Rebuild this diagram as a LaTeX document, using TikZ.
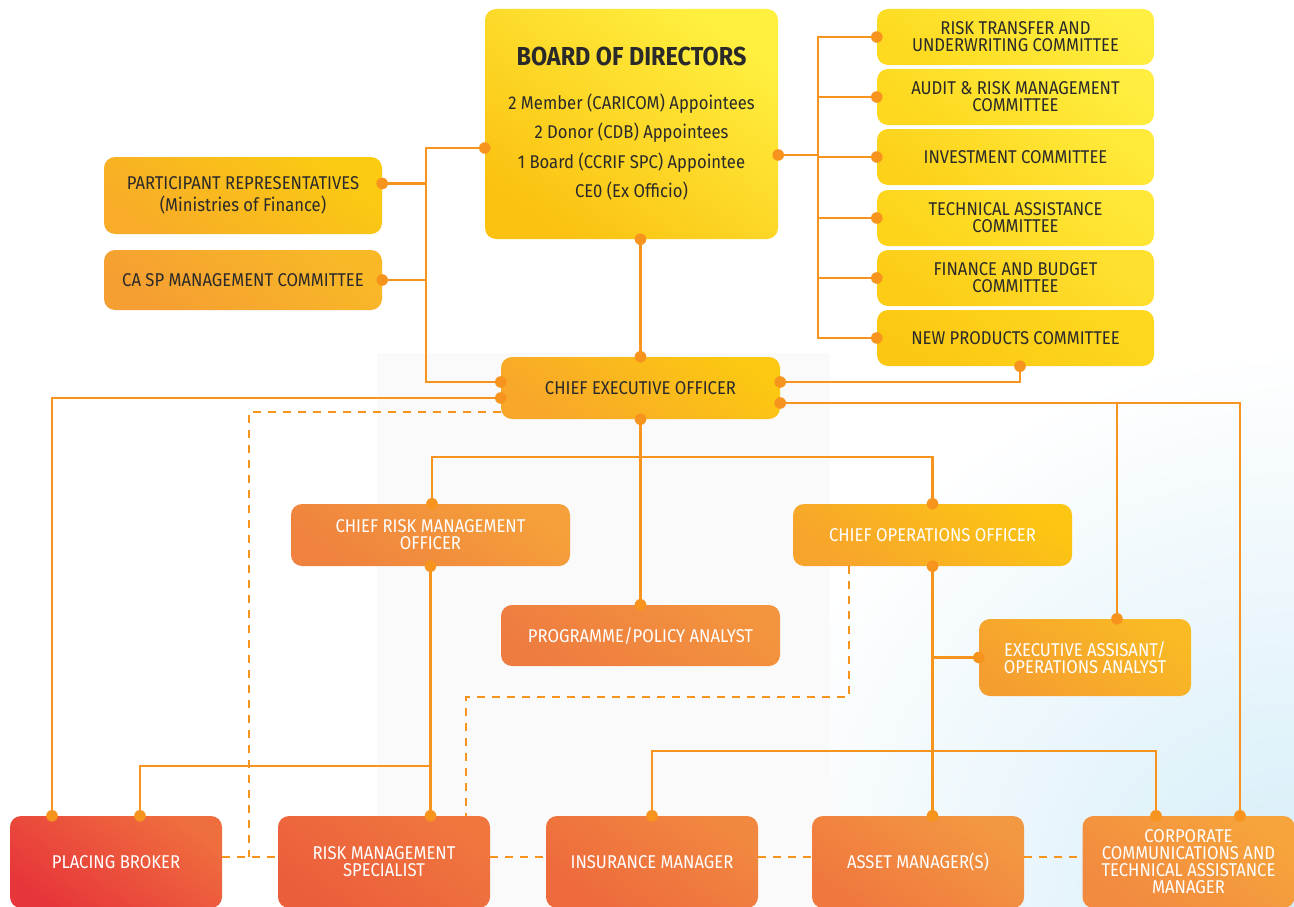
\documentclass[tikz,border=0pt]{standalone}
\usepackage{fontspec}
\setmainfont{Fira Sans}[FakeStretch=0.9]
\usetikzlibrary{calc}
\definecolor{lc}{HTML}{F7941D}
\definecolor{txt}{HTML}{2A2A2A}
\definecolor{bgblue}{HTML}{D5EDF8}
\definecolor{panel}{HTML}{FAFAFA}
\tikzset{
  box/.style={rounded corners=11pt, inner sep=0pt, align=center, text=txt,
    font=\fontsize{18.5}{17}\selectfont},
  wbox/.style={box, text=white},
  g/.style 2 args={/utils/exec={\definecolor{gA}{HTML}{#1}\definecolor{gB}{HTML}{#2}},
    bottom color=gA, top color=gB, shading angle=-35},
  conn/.style={draw=lc, line width=2.5pt},
  dconn/.style={draw=lc, line width=2.5pt, dash pattern=on 8pt off 7pt},
  comm/.style={box, minimum width=277pt, minimum height=56pt},
  mid/.style={minimum width=279pt, minimum height=62pt},
  bot/.style={wbox, minimum width=212pt, minimum height=92pt},
}
\begin{document}
\begin{tikzpicture}[x=1pt,y=-1pt]
\path[use as bounding box] (0,0) rectangle (1294,907);
\clip (0,0) rectangle (1294,907);
\fill[white] (0,0) rectangle (1294,907);
\shade[inner color=bgblue, outer color=white] (1294,907) circle (560);
\fill[panel] (377,353) rectangle (830,907);

% ---------- nodes ----------
\node[box, g={FBC211}{FFEF3F}, minimum width=293pt, minimum height=230pt,
  font=\fontsize{18.5}{29.5}\selectfont] (board) at (631.5,124)
  {{\fontsize{26}{26}\selectfont\bfseries BOARD OF DIRECTORS}\\[14pt]
   2 Member (CARICOM) Appointees\\ 2 Donor (CDB) Appointees\\
   1 Board (CCRIF SPC) Appointee\\ CE0 (Ex Officio)};

\node[comm, g={FDDA20}{FFEF42}] (c1) at (1015.5,37) {RISK TRANSFER AND\\UNDERWRITING COMMITTEE};
\node[comm, g={FDD81E}{FFEE40}] (c2) at (1015.5,97) {AUDIT \& RISK MANAGEMENT\\COMMITTEE};
\node[comm, g={FDD11A}{FFEA3A}] (c3) at (1015.5,157) {INVESTMENT COMMITTEE};
\node[comm, g={FDD41A}{FFE838}] (c4) at (1015.5,218) {TECHNICAL ASSISTANCE\\COMMITTEE};
\node[comm, g={FCCC16}{FEE130}] (c5) at (1015.5,278) {FINANCE AND BUDGET\\COMMITTEE};
\node[comm, g={FBC713}{FDD81E}] (c6) at (1015.5,338) {NEW PRODUCTS COMMITTEE};

\node[box, g={F8AC27}{FBCB12}, minimum width=278pt, minimum height=77pt,
  font=\fontsize{18.5}{22}\selectfont] (pr) at (243,195.5)
  {PARTICIPANT REPRESENTATIVES\\(Ministries of Finance)};
\node[box, g={F59E32}{F9B927}, minimum width=278pt, minimum height=60pt] (casp) at (243,280)
  {CA SP MANAGEMENT COMMITTEE};

\node[box, mid, g={F8A72A}{FCC812}] (ceo) at (640.5,388) {CHIEF EXECUTIVE OFFICER};
\node[wbox, mid, g={EF823F}{F5A03A}] (crmo) at (430.5,535) {CHIEF RISK MANAGEMENT\\OFFICER};
\node[wbox, mid, g={F7A42C}{FCC613}] (coo) at (932.5,535) {CHIEF OPERATIONS OFFICER};
\node[wbox, mid, g={EE7C40}{F3943E}, minimum height=61pt] (prog) at (640.5,635.5) {PROGRAMME/POLICY ANALYST};
\node[wbox, g={F59E30}{F9BA24}, minimum width=212pt, minimum height=77pt] (ex) at (1085,657.5)
  {EXECUTIVE ASSISANT/\\OPERATIONS ANALYST};

\node[bot, g={E7363A}{EF6E3E}] (pb) at (116,862) {PLACING BROKER};
\node[bot, g={EB5E3C}{F0763E}] (rms) at (384,862) {RISK MANAGEMENT\\SPECIALIST};
\node[bot, g={EE693C}{F18840}] (ins) at (652,862) {INSURANCE MANAGER};
\node[bot, g={F0783E}{F39842}] (ast) at (918,862) {ASSET MANAGER(S)};
\node[bot, g={F28A40}{F6A43C}] (corp) at (1188.5,862) {CORPORATE\\COMMUNICATIONS  AND\\TECHNICAL ASSISTANCE\\MANAGER};

% ---------- anchor points ----------
\coordinate (bL) at ([yshift=-24pt]board.west);
\coordinate (bR) at ([yshift=-31pt]board.east);
\coordinate (bB) at ([xshift=9pt]board.south);
\coordinate (prR) at ([yshift=12pt]pr.east);
\coordinate (c6B) at ([xshift=4.5pt]c6.south);
\coordinate (ceoL1) at ([yshift=6pt]ceo.west);
\coordinate (ceoL2) at ([yshift=-10pt]ceo.west);
\coordinate (ceoL3) at ([yshift=-24pt]ceo.west);
\coordinate (ceoR1) at ([yshift=6pt]ceo.east);
\coordinate (ceoR2) at ([yshift=-15pt]ceo.east);
\coordinate (crmoT) at ([xshift=1.5pt]crmo.north);
\coordinate (cooD) at ([xshift=-83.5pt]coo.south);
\coordinate (exT) at ([xshift=32pt]ex.north);
\coordinate (pbA) at ([xshift=-64pt]pb.north);
\coordinate (pbB) at ([xshift=24pt]pb.north);
\coordinate (rmsA) at ([xshift=46.5pt]rms.north);
\coordinate (rmsD) at ([xshift=82pt]rms.north);
\coordinate (astT) at ([xshift=14.5pt]ast.north);
\coordinate (corpA) at ([xshift=-32.5pt]corp.north);
\coordinate (corpB) at ([xshift=51.5pt]corp.north);
\coordinate (rt) at (818,0);
\coordinate (lt) at (426,0);
\coordinate (dj) at (249,0);
\coordinate (hb) at (0,457);
\coordinate (hy) at (0,766);
\coordinate (dy) at (0,697);
\coordinate (iy) at (0,751);

% ---------- connectors ----------
\draw[conn] (c1.west) -- (c1.west -| rt) -- (c6.west -| rt) -- (c6.west);
\foreach \c in {c2,c3,c4,c5} \draw[conn] (\c.west) -- (\c.west -| rt);
\draw[conn] (bR) -- (bR -| rt);
\draw[conn] (bL) -- (bL -| lt) -- (ceoL1 -| lt) -- (ceoL1);
\draw[conn] (prR) -- (prR -| lt);
\draw[conn] (casp.east) -- (casp.east -| lt);
\draw[conn] (bB) -- (ceo.north);
\draw[conn] (ceoR1) -| (c6B);
\draw[conn] (ceoR2) -| (corpB);
\draw[conn] (ceoR2 -| exT) -- (exT);
\draw[conn] (ceoL2) -| (pbA);
\draw[conn] (ceo.south) -- (prog.north);
\draw[conn] (crmoT) -- (crmoT |- hb) -- (coo.north |- hb) -- (coo.north);
\draw[conn] (crmo.south) -- (rmsA);
\draw[conn] (pbB) -- (pbB |- hy) -- (rmsA |- hy);
\draw[conn] (coo.south) -- (astT);
\draw[conn] (coo.south |- ex.west) -- (ex.west);
\draw[conn] (ins.north) -- (ins.north |- iy) -- (corpA |- iy) -- (corpA);

\coordinate (pbE) at ([yshift=5pt]pb.east);
\draw[dconn] (pbE) -- (pbE -| rms.west);
\draw[dconn] ([yshift=5pt]rms.east) -- ([yshift=5pt]ins.west);
\draw[dconn] ([yshift=5pt]ins.east) -- ([yshift=5pt]ast.west);
\draw[dconn] ([yshift=5pt]ast.east) -- ([yshift=5pt]corp.west);
\draw[dconn] (ceoL3) -- (ceoL3 -| dj) -- (pbE -| dj);
\draw[dconn] (cooD) -- (cooD |- dy) -- (rmsD |- dy) -- (rmsD);

% ---------- dots ----------
\foreach \p in {bL,bR,bB,prR,casp.east,c1.west,c2.west,c3.west,c4.west,c5.west,c6.west,c6B,
  ceo.north,ceoL1,ceoL2,ceoR1,ceoR2,ceo.south,crmoT,crmo.south,coo.north,coo.south,
  prog.north,exT,ex.west,pbA,pbB,rmsA,ins.north,astT,corpA,corpB}
  \fill[lc] (\p) circle (5.8);
\end{tikzpicture}
\end{document}
